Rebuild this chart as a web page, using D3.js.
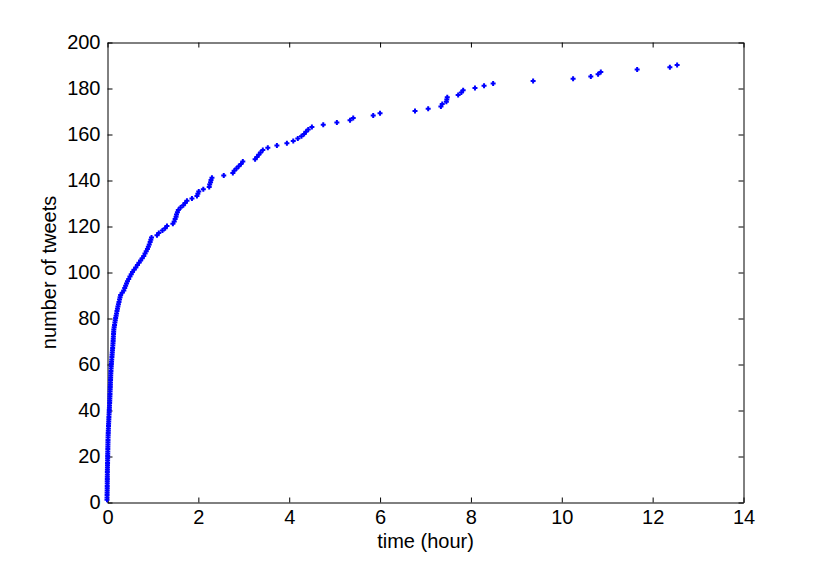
<!DOCTYPE html>
<html>
<head>
<meta charset="utf-8">
<script src="https://cdn.jsdelivr.net/npm/d3@7"></script>
<style>
  html, body { margin: 0; padding: 0; background: #fff; }
  svg { display: block; }
  text { font-family: "Liberation Sans", Arial, Helvetica, sans-serif; fill: #000; }
</style>
</head>
<body>
<svg id="chart" width="822" height="565"></svg>
<script>
// Tweet arrival times (hours); the y value is the cumulative count (1..N)
const tweetTimes = [
  0.000, 0.001, 0.002, 0.003, 0.004, 0.005, 0.005, 0.006, 0.006, 0.007,
  0.007, 0.008, 0.008, 0.009, 0.010, 0.011, 0.012, 0.013, 0.014, 0.015,
  0.016, 0.017, 0.018, 0.019, 0.020, 0.021, 0.022, 0.023, 0.025, 0.027,
  0.029, 0.031, 0.033, 0.035, 0.038, 0.040, 0.042, 0.045, 0.048, 0.050,
  0.053, 0.055, 0.058, 0.060, 0.062, 0.064, 0.066, 0.068, 0.070, 0.072,
  0.074, 0.076, 0.078, 0.080, 0.082, 0.084, 0.087, 0.090, 0.093, 0.096,
  0.100, 0.104, 0.108, 0.112, 0.116, 0.120, 0.124, 0.128, 0.132, 0.135,
  0.138, 0.141, 0.144, 0.147, 0.150, 0.158, 0.166, 0.174, 0.182, 0.190,
  0.200, 0.210, 0.220, 0.230, 0.240, 0.252, 0.264, 0.276, 0.288, 0.300,
  0.335, 0.370, 0.390, 0.410, 0.430, 0.450, 0.478, 0.505, 0.533, 0.560,
  0.597, 0.633, 0.670, 0.705, 0.740, 0.775, 0.810, 0.837, 0.863, 0.890,
  0.910, 0.930, 0.950, 0.965, 0.980, 1.100, 1.140, 1.220, 1.280, 1.320,
  1.450, 1.480, 1.500, 1.520, 1.530, 1.550, 1.570, 1.620, 1.680, 1.720,
  1.760, 1.870, 1.980, 2.000, 2.020, 2.120, 2.250, 2.260, 2.280, 2.290,
  2.310, 2.570, 2.770, 2.800, 2.850, 2.900, 2.950, 2.990, 3.260, 3.300,
  3.340, 3.380, 3.430, 3.540, 3.740, 3.960, 4.100, 4.200, 4.280, 4.340,
  4.380, 4.430, 4.510, 4.760, 5.060, 5.350, 5.420, 5.860, 6.010, 6.780,
  7.070, 7.350, 7.380, 7.470, 7.480, 7.490, 7.730, 7.800, 7.840, 8.100,
  8.300, 8.500, 9.380, 10.260, 10.650, 10.810, 10.870, 11.670, 12.390, 12.550
];
const tweetCounts = tweetTimes.map((t, i) => i + 1);

const xTicks = [0, 2, 4, 6, 8, 10, 12, 14];
const yTicks = [0, 20, 40, 60, 80, 100, 120, 140, 160, 180, 200];
const xDomain = [0, 14];
const yDomain = [0, 200];
const xLabel = "time (hour)";
const yLabel = "number of tweets";

const svg = d3.select("#chart");
svg.append("rect").attr("width", 822).attr("height", 565).attr("fill", "#fff");

const pLeft = 107.5, pRight = 743.5, pTop = 42.5, pBottom = 502.5;
const x = d3.scaleLinear().domain(xDomain).range([pLeft, pRight]);
const y = d3.scaleLinear().domain(yDomain).range([pBottom, pTop]);

const fontSize = 20;

const gB = svg.append("g").attr("transform", `translate(0,${pBottom})`)
  .call(d3.axisBottom(x).tickValues(xTicks).tickFormat(d3.format("d"))
    .tickSizeInner(-5).tickSizeOuter(0).tickPadding(7));
const gL = svg.append("g").attr("transform", `translate(${pLeft},0)`)
  .call(d3.axisLeft(y).tickValues(yTicks).tickFormat(d3.format("d"))
    .tickSizeInner(-5).tickSizeOuter(0).tickPadding(7));
const gT = svg.append("g").attr("transform", `translate(0,${pTop})`)
  .call(d3.axisTop(x).tickValues(xTicks).tickFormat("")
    .tickSizeInner(-5).tickSizeOuter(0));
const gR = svg.append("g").attr("transform", `translate(${pRight},0)`)
  .call(d3.axisRight(y).tickValues(yTicks).tickFormat("")
    .tickSizeInner(-5).tickSizeOuter(0));

[gB, gL, gT, gR].forEach(g => {
  g.selectAll("path.domain").attr("stroke", "#000").attr("stroke-width", 1);
  g.selectAll(".tick line").attr("stroke", "#000").attr("stroke-width", 1);
  g.selectAll(".tick text")
    .attr("font-size", fontSize)
    .attr("font-family", "Liberation Sans, Arial, Helvetica, sans-serif")
    .attr("fill", "#000");
});

svg.append("g").selectAll("path.pt")
  .data(tweetTimes.map((t, i) => [t, tweetCounts[i]]))
  .join("path")
  .attr("class", "pt")
  .attr("transform", d => `translate(${x(d[0]) - 0.5},${y(d[1]) - 0.5})`)
  .attr("d", "M-2.5,0H2.5M0,-2.5V2.5")
  .attr("stroke", "#0000ff")
  .attr("stroke-width", 2)
  .attr("fill", "none");

svg.append("text")
  .attr("x", (pLeft + pRight) / 2)
  .attr("y", 548)
  .attr("text-anchor", "middle")
  .attr("font-size", fontSize)
  .text(xLabel);

svg.append("text")
  .attr("transform", `translate(56,${(pTop + pBottom) / 2}) rotate(-90)`)
  .attr("text-anchor", "middle")
  .attr("font-size", fontSize)
  .text(yLabel);
</script>
</body>
</html>
